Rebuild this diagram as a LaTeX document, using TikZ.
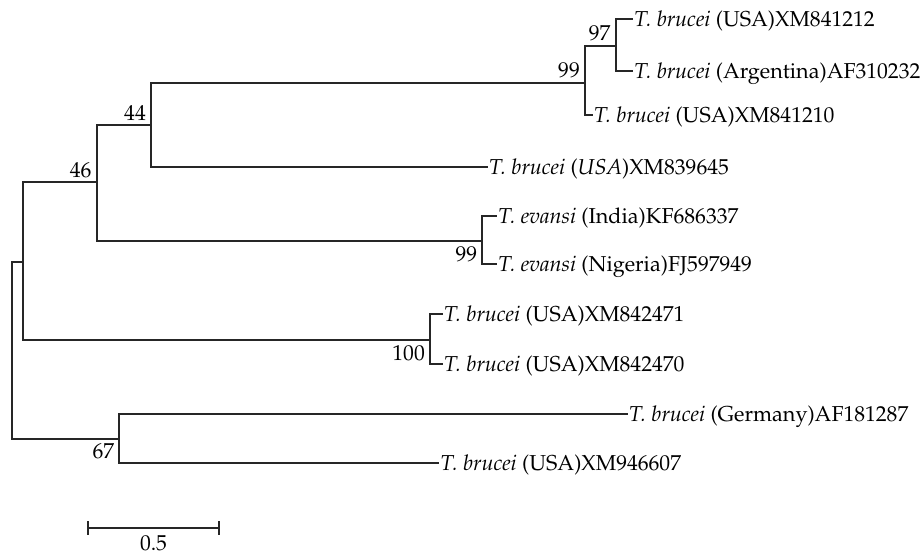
\documentclass[tikz,border=0pt]{standalone}
\usepackage[T1]{fontenc}
\usepackage{mathpazo}
\usetikzlibrary{positioning}
\tikzset{
  every picture/.style={
    font=\fontsize{10.8}{13}\selectfont,
    line join=miter,
    line cap=rect,
  },
  branch/.style={draw=black!85, line width=0.9pt},
  taxon/.style={anchor=west, inner sep=1pt, text height=7.4pt, text depth=0pt},
  boot/.style={inner sep=2.4pt, text height=7.4pt, text depth=0pt},
}
\newcommand{\Tb}{\textit{T. brucei}}
\newcommand{\Te}{\textit{T. evansi}}
\begin{document}
\begin{tikzpicture}[x=0.5pt,y=-0.5pt]
\useasboundingbox (0,0) rectangle (921,556);
% inner nodes
\coordinate (root) at (12.3,262);
\coordinate (nA) at (23,262);
\coordinate (n46) at (96.7,182.3);
\coordinate (n44) at (151,125.3);
\coordinate (n99) at (585,82.7);
\coordinate (n97) at (615.7,45.7);
\coordinate (nEv) at (482.3,241);
\coordinate (n100) at (430,340.3);
\coordinate (n67) at (119.3,438.7);
% leaves
\coordinate (l1) at (632,19);
\coordinate (l2) at (632,70.7);
\coordinate (l3) at (591.7,115.3);
\coordinate (l4) at (486.7,167.3);
\coordinate (l5) at (496,216);
\coordinate (l6) at (496,264);
\coordinate (l7) at (441.7,314.3);
\coordinate (l8) at (441.7,364);
\coordinate (l9) at (626.7,414.3);
\coordinate (l10) at (438.3,463);
% branches
\draw[branch] (root) |- (nA) (root) |- (n67);
\draw[branch] (nA) |- (n46) (nA) |- (n100);
\draw[branch] (n46) |- (n44) (n46) |- (nEv);
\draw[branch] (n44) |- (n99) (n44) |- (l4);
\draw[branch] (n99) |- (n97) (n99) |- (l3);
\draw[branch] (n97) |- (l1) (n97) |- (l2);
\draw[branch] (nEv) |- (l5) (nEv) |- (l6);
\draw[branch] (n100) |- (l7) (n100) |- (l8);
\draw[branch] (n67) |- (l9) (n67) |- (l10);
% taxa
\node[taxon] (t1) at (l1) {\Tb{} (USA)XM841212};
\node[taxon] (t2) at (l2) {\Tb{} (Argentina)AF310232};
\node[taxon] (t3) at (l3) {\Tb{} (USA)XM841210};
\node[taxon] (t4) at (l4) {\Tb{} (\textit{USA})XM839645};
\node[taxon] (t5) at (l5) {\Te{} (India)KF686337};
\node[taxon] (t6) at (l6) {\Te{} (Nigeria)FJ597949};
\node[taxon] (t7) at (l7) {\Tb{} (USA)XM842471};
\node[taxon] (t8) at (l8) {\Tb{} (USA)XM842470};
\node[taxon] (t9) at (l9) {\Tb{} (Germany)AF181287};
\node[taxon] (t10) at (l10) {\Tb{} (USA)XM946607};
% bootstrap values
\node[boot,anchor=south east] (b97) at (n97) {97};
\node[boot,anchor=south east] (b99) at (n99) {99};
\node[boot,anchor=south east] (b44) at (n44) {44};
\node[boot,anchor=south east] (b46) at (n46) {46};
\node[boot,anchor=north east] (bEv) at (nEv) {99};
\node[boot,anchor=north east] (b100) at (n100) {100};
\node[boot,anchor=north east] (b67) at (n67) {67};
% scale bar
\coordinate (s0) at (87.7,527.7);
\coordinate (s1) at (219.3,527.7);
\draw[branch] (s0) -- node[below=3.5pt,inner sep=0pt] (sl) {0.5} (s1);
\draw[branch] ([yshift=3pt]s0) -- ([yshift=-3pt]s0);
\draw[branch] ([yshift=3pt]s1) -- ([yshift=-3pt]s1);
\end{tikzpicture}
\end{document}
